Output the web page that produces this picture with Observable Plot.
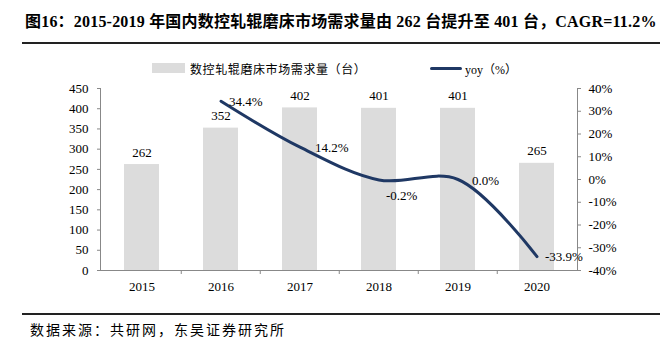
<!DOCTYPE html>
<html><head><meta charset="utf-8">
<script src="https://cdn.jsdelivr.net/npm/d3@7"></script>
<script src="https://cdn.jsdelivr.net/npm/@observablehq/plot@0.6"></script>
<style>
body{margin:0;background:#fff;}
#wrap{position:relative;width:671px;height:339px;overflow:hidden;font-family:"Liberation Serif","Noto Sans CJK SC",serif;color:#000;}
#title{position:absolute;left:25px;top:8px;font-size:16px;font-weight:bold;white-space:nowrap;letter-spacing:0.2px;}
.rule{position:absolute;left:22px;width:638px;height:2px;background:#222;}
#legend{position:absolute;top:60px;left:0;width:671px;height:16px;font-size:12px;}
.sw1{position:absolute;left:152px;top:3px;width:33px;height:10px;background:#dcdcdc;}
.lt1{position:absolute;left:190px;top:0px;letter-spacing:0.6px;white-space:nowrap;}
.sw2{position:absolute;left:430px;top:7px;width:32px;height:3px;background:#1f3864;border-radius:2px;}
.lt2{position:absolute;left:465px;top:0px;white-space:nowrap;}
#chart{position:absolute;left:0;top:78px;}
#source{position:absolute;left:30px;top:319px;font-size:14px;letter-spacing:2px;white-space:nowrap;}
</style></head><body>
<div id="wrap">
 <div id="title">图16：2015-2019 年国内数控轧辊磨床市场需求量由 262 台提升至 401 台，CAGR=11.2%</div>
 <div class="rule" style="top:42px"></div>
 <div id="legend">
  <div class="sw1"></div><div class="lt1">数控轧辊磨床市场需求量（台）</div>
  <div class="sw2"></div><div class="lt2">yoy（%）</div>
 </div>
 <div id="chart"></div>
 <div class="rule" style="top:313px"></div>
 <div id="source">数据来源：共研网，东吴证券研究所</div>
</div>
<script>
const years = ["2015","2016","2017","2018","2019","2020"];
const demand = [262, 352, 402, 401, 401, 265];
const yoyYears = ["2016","2017","2018","2019","2020"];
const yoy = [34.4, 14.2, -0.2, 0.0, -33.9];
const leftTicks = [0,50,100,150,200,250,300,350,400,450];
const rightTicks = [-40,-30,-20,-10,0,10,20,30,40];

const W = 671, H = 222, ML = 100, MR = 94, MT = 10, MB = 30;
const LMAX = 450, RMIN = -40, RMAX = 40;
const toLeft = v => (v - RMIN) / (RMAX - RMIN) * LMAX;
const fromLeft = d => Math.round(d / LMAX * (RMAX - RMIN) + RMIN);

const rows = years.map((y, i) => ({year: y, demand: demand[i]}));
const yoyRows = yoyYears.map((y, i) => ({year: y, yoy: yoy[i], v: toLeft(yoy[i])}));
const step = (W - ML - MR) / years.length;
const offs = [[8,1],[15,1],[7,16],[14,1],[8,0]];

const axisColor = "#888";
const plot = Plot.plot({
  width: W, height: H,
  marginLeft: ML, marginRight: MR, marginTop: MT, marginBottom: MB,
  style: {fontFamily: "Liberation Serif, serif", fontSize: "13px", color: "#000", background: "transparent"},
  x: {domain: years, padding: 0},
  y: {domain: [0, LMAX]},
  marks: [
    Plot.barY(rows, {x: "year", y: "demand", fill: "#dcdcdc", insetLeft: 22, insetRight: 22}),
    Plot.frame({anchor: "left", stroke: axisColor}),
    Plot.frame({anchor: "right", stroke: axisColor}),
    Plot.frame({anchor: "bottom", stroke: axisColor}),
    Plot.ruleX(years.slice(1), {x: d => d, y1: 0, y2: 0, insetBottom: -4, dx: -step / 2, stroke: axisColor}),
    Plot.axisY(leftTicks, {anchor: "left", tickSize: 3, tickPadding: 9, stroke: axisColor, fill: "#000", label: null}),
    Plot.axisY(rightTicks.map(toLeft), {anchor: "right", tickSize: 3, tickPadding: 8, stroke: axisColor, fill: "#000", tickFormat: d => fromLeft(d) + "%", label: null}),
    Plot.axisX({tickSize: 0, tickPadding: 11, label: null, fill: "#000"}),
    Plot.text(rows, {x: "year", y: "demand", text: d => String(d.demand), dy: -12, fill: "#000"}),
    Plot.line(yoyRows, {x: "year", y: "v", curve: "catmull-rom", stroke: "#1f3864", strokeWidth: 3}),
    ...yoyRows.map((r, i) => Plot.text([r], {x: "year", y: "v", text: d => d.yoy.toFixed(1) + "%", textAnchor: "start", dx: offs[i][0], dy: offs[i][1], fill: "#000"}))
  ]
});
document.getElementById("chart").appendChild(plot);
</script>
</body></html>
